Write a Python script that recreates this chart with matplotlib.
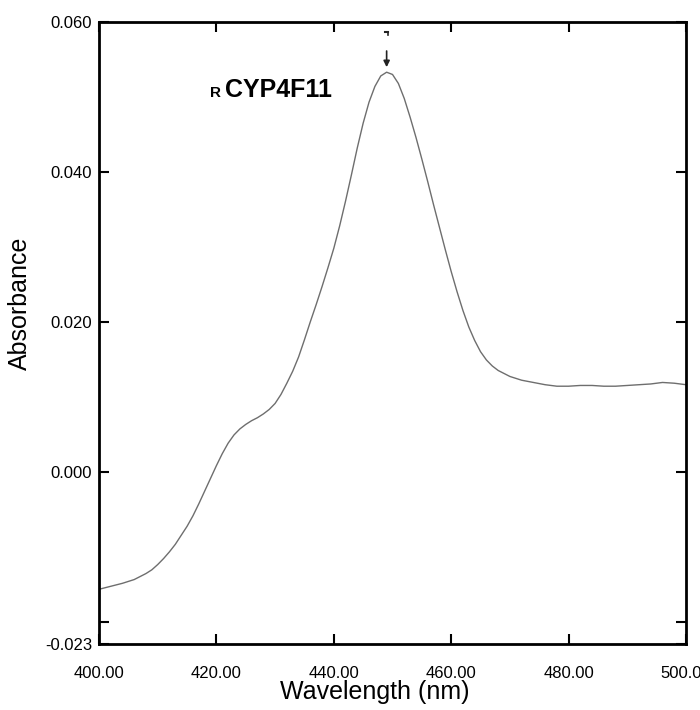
import numpy as np
import matplotlib
matplotlib.use("Agg")
import matplotlib.pyplot as plt

# spectrum (wavelength in nm, absorbance)
wavelength = [400, 402, 404, 406, 407, 408, 409, 410, 411, 412, 413, 414, 415, 416, 417, 418, 419,
              420, 421, 422, 423, 424, 425, 426, 427, 428, 429, 430, 431, 432, 433, 434, 435,
              436, 437, 438, 439, 440, 441, 442, 443, 444, 445, 446, 447, 448, 449,
              450, 451, 452, 453, 454, 455, 456, 457, 458, 459, 460, 461, 462, 463,
              464, 465, 466, 467, 468, 469, 470, 472, 474, 476, 478, 480, 482, 484,
              486, 488, 490, 492, 494, 496, 498, 500]
absorbance = [-0.0157, -0.0153, -0.0149, -0.0144, -0.0140, -0.0136, -0.0131, -0.0124, -0.0116,
              -0.0107, -0.0097, -0.0085, -0.0073, -0.0059, -0.0043, -0.0026, -0.0009,
              0.0008, 0.0024, 0.0038, 0.0049, 0.0057, 0.0063, 0.0068, 0.0072, 0.0077, 0.0083,
              0.0091, 0.0103, 0.0118, 0.0134, 0.0153, 0.0176,
              0.0200, 0.0223, 0.0247, 0.0272, 0.0298, 0.0328, 0.0361, 0.0396, 0.0432, 0.0465,
              0.0493, 0.0514, 0.0528, 0.0533,
              0.0530, 0.0518, 0.0498, 0.0473, 0.0446, 0.0417, 0.0387, 0.0356, 0.0326, 0.0296,
              0.0267, 0.0240, 0.0215, 0.0193,
              0.0175, 0.0160, 0.0149, 0.0141, 0.0135, 0.0131, 0.0127, 0.0122, 0.0119, 0.0116,
              0.0114, 0.0114, 0.0115, 0.0115,
              0.0114, 0.0114, 0.0115, 0.0116, 0.0117, 0.0119, 0.0118, 0.0116]

xticks = [400, 420, 440, 460, 480, 500]
xtick_labels = ["400.00", "420.00", "440.00", "460.00", "480.00", "500.00"]
yticks = [-0.023, -0.020, 0.000, 0.020, 0.040, 0.060]
ytick_labels = ["-0.023", "", "0.000", "0.020", "0.040", "0.060"]

narrow = ["Liberation Sans Narrow", "Liberation Sans", "DejaVu Sans"]
sans = ["Liberation Sans", "DejaVu Sans"]

fig = plt.figure(figsize=(7, 7.1), dpi=100)
ax = fig.add_axes([99 / 700, 66 / 710, 587 / 700, 622 / 710])

ax.plot(wavelength, absorbance, color="#6e6e6e", lw=1.0)

ax.set_xlim(400, 500)
ax.set_ylim(-0.023, 0.060)
ax.set_xticks(xticks)
ax.set_xticklabels(xtick_labels, family=narrow, fontsize=12)
ax.set_yticks(yticks)
ax.set_yticklabels(ytick_labels, family=narrow, fontsize=12)
ax.tick_params(direction="in", length=7, width=1.5, top=True, right=True,
               pad=5, colors="black")
ax.tick_params(axis="x", pad=16)
for s in ax.spines.values():
    s.set_linewidth(2)

# peak marker
i_pk = int(np.argmax(absorbance))
pk_x, pk_y = wavelength[i_pk], absorbance[i_pk]
ax.annotate("", xy=(pk_x, pk_y + 0.0003), xytext=(pk_x, pk_y + 0.0032),
            arrowprops=dict(arrowstyle="-|>", color="#222222", lw=1.2,
                            mutation_scale=9))
ax.plot([pk_x - 0.3, pk_x + 0.3], [pk_y + 0.0054, pk_y + 0.0054], color="#222222", lw=1.5)
ax.plot([pk_x + 0.3, pk_x + 0.3], [pk_y + 0.0054, pk_y + 0.0050], color="#222222", lw=1.2)

ax.text(418.9, 0.0500, "R", family=sans, fontsize=11, fontweight="bold", va="baseline")
ax.text(421.5, 0.0500, "CYP4F11", family=sans, fontsize=18, fontweight="bold", va="baseline")

fig.text(375 / 700, 1 - 692 / 710, "Wavelength (nm)", family=sans, fontsize=18,
         ha="center", va="center")
fig.text(20 / 700, 1 - 303 / 710, "Absorbance", family=sans, fontsize=18,
         rotation=90, ha="center", va="center")

fig.savefig("out.png", dpi=100)
